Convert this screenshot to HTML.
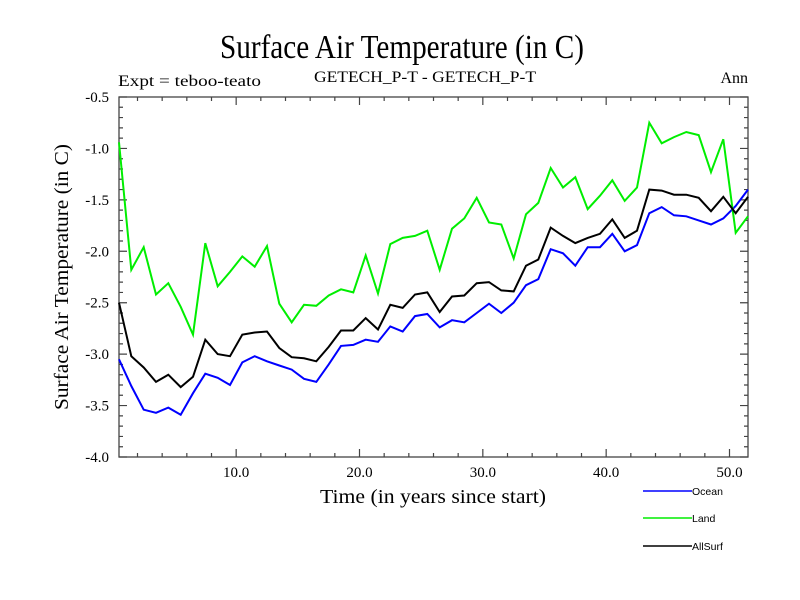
<!DOCTYPE html>
<html><head><meta charset="utf-8"><style>
html,body{margin:0;padding:0;background:#fff;}
svg{display:block;}
text{font-family:"Liberation Serif",serif;}
</style></head><body>
<svg id="chart" width="800" height="600" xmlns="http://www.w3.org/2000/svg">
<text x="402" y="58" font-size="34" text-anchor="middle" textLength="364" lengthAdjust="spacingAndGlyphs">Surface Air Temperature (in C)</text>
<text x="118" y="86" font-size="16" textLength="143" lengthAdjust="spacingAndGlyphs">Expt = teboo-teato</text>
<text x="425" y="82" font-size="16" text-anchor="middle" textLength="222" lengthAdjust="spacingAndGlyphs">GETECH_P-T - GETECH_P-T</text>
<text x="748" y="83" font-size="16" text-anchor="end">Ann</text>
<text transform="translate(68,277) rotate(-90)" font-size="20" text-anchor="middle" textLength="266" lengthAdjust="spacingAndGlyphs">Surface Air Temperature (in C)</text>
<text x="433" y="503" font-size="20" text-anchor="middle" textLength="226" lengthAdjust="spacingAndGlyphs">Time (in years since start)</text>
<g id="plot"></g>
</svg>
<script>
const years = [];
for (let i = 0; i < 52; i++) years.push(0.5 + i);
const ocean = [-3.05,-3.31,-3.54,-3.57,-3.52,-3.59,-3.38,-3.19,-3.23,-3.30,-3.08,-3.02,-3.07,-3.11,-3.15,-3.24,-3.27,-3.10,-2.92,-2.91,-2.86,-2.88,-2.73,-2.78,-2.63,-2.61,-2.74,-2.67,-2.69,-2.60,-2.51,-2.60,-2.50,-2.33,-2.27,-1.98,-2.02,-2.14,-1.96,-1.96,-1.83,-2.00,-1.94,-1.63,-1.57,-1.65,-1.66,-1.70,-1.74,-1.68,-1.56,-1.40];
const land = [-0.94,-2.18,-1.96,-2.42,-2.31,-2.54,-2.81,-1.92,-2.34,-2.20,-2.05,-2.15,-1.95,-2.51,-2.69,-2.52,-2.53,-2.43,-2.37,-2.40,-2.04,-2.41,-1.93,-1.87,-1.85,-1.80,-2.18,-1.78,-1.68,-1.48,-1.72,-1.74,-2.07,-1.64,-1.53,-1.19,-1.38,-1.28,-1.59,-1.46,-1.31,-1.51,-1.38,-0.75,-0.95,-0.89,-0.84,-0.87,-1.23,-0.91,-1.82,-1.66];
const allsurf = [-2.50,-3.02,-3.13,-3.27,-3.20,-3.32,-3.22,-2.86,-3.00,-3.02,-2.81,-2.79,-2.78,-2.94,-3.03,-3.04,-3.07,-2.93,-2.77,-2.77,-2.65,-2.76,-2.52,-2.55,-2.42,-2.40,-2.59,-2.44,-2.43,-2.31,-2.30,-2.38,-2.39,-2.14,-2.08,-1.77,-1.85,-1.92,-1.87,-1.83,-1.69,-1.87,-1.80,-1.40,-1.41,-1.45,-1.45,-1.48,-1.61,-1.47,-1.63,-1.47];
const yTicks = [-0.5,-1.0,-1.5,-2.0,-2.5,-3.0,-3.5,-4.0];
const xTicks = [10,20,30,40,50];
const seriesNames = ["Ocean","Land","AllSurf"];

const L=119,R=748,T=97,B=457, X0=0.5,X1=51.5, Y0=-4.0,Y1=-0.5;
const sx = v => L + (v - X0) / (X1 - X0) * (R - L);
const sy = v => B - (v - Y0) / (Y1 - Y0) * (B - T);
const NS = "http://www.w3.org/2000/svg";
const g = document.getElementById('plot');
function mk(tag, attrs, parent){ const e=document.createElementNS(NS,tag); for(const k in attrs) e.setAttribute(k,attrs[k]); (parent||g).appendChild(e); return e; }

const frame = mk('rect',{x:L,y:T,width:R-L,height:B-T,fill:'none',stroke:'#444','stroke-width':1.3});



for (let v = 2; v <= 50; v += 2) {
  const major = v % 10 === 0, len = major ? 8 : 4, x = sx(v);
  const t1 = mk('path',{d:`M${x},${B}V${B-len}M${x},${T}V${T+len}`,stroke:'#444','stroke-width':1.2});
  
  
}
xTicks.forEach(v => {
  const t = mk('text',{x:sx(v),y:477,'font-size':15,'text-anchor':'middle'});
  t.textContent = v.toFixed(1);
  
  
});
for (let k = 0; k <= 35; k++) {
  const v = -4.0 + k * 0.1, major = k % 5 === 0, len = major ? 8 : 4, y = sy(v);
  const t1 = mk('path',{d:`M${L},${y}H${L+len}M${R},${y}H${R-len}`,stroke:'#444','stroke-width':1.2});
  
  
}
yTicks.forEach(v => {
  const t = mk('text',{x:109,y:sy(v)+5,'font-size':15,'text-anchor':'end'});
  t.textContent = v.toFixed(1);
  
  
});

const series = [[ocean,'#0000ff','ocean-line'],[land,'#00ee00','land-line'],[allsurf,'#000000','allsurf-line']];
series.forEach(([vals,col,name]) => {
  const d = vals.map((v,i)=>(i?'L':'M')+sx(years[i]).toFixed(1)+','+sy(v).toFixed(1)).join('');
  const p = mk('path',{d:d,fill:'none',stroke:col,'stroke-width':2,'stroke-linejoin':'miter'});
  
  
});

const legY = [491,518,546];
series.forEach(([vals,col,name],i) => {
  const ln = mk('line',{x1:643,x2:692,y1:legY[i],y2:legY[i],stroke:col,'stroke-width':1.5});
  
  
  const t = mk('text',{x:692,y:legY[i]+4,'font-size':10.5,style:'font-family:"Liberation Sans",sans-serif'});
  t.textContent = seriesNames[i];
  
  
});
</script>
</body></html>
